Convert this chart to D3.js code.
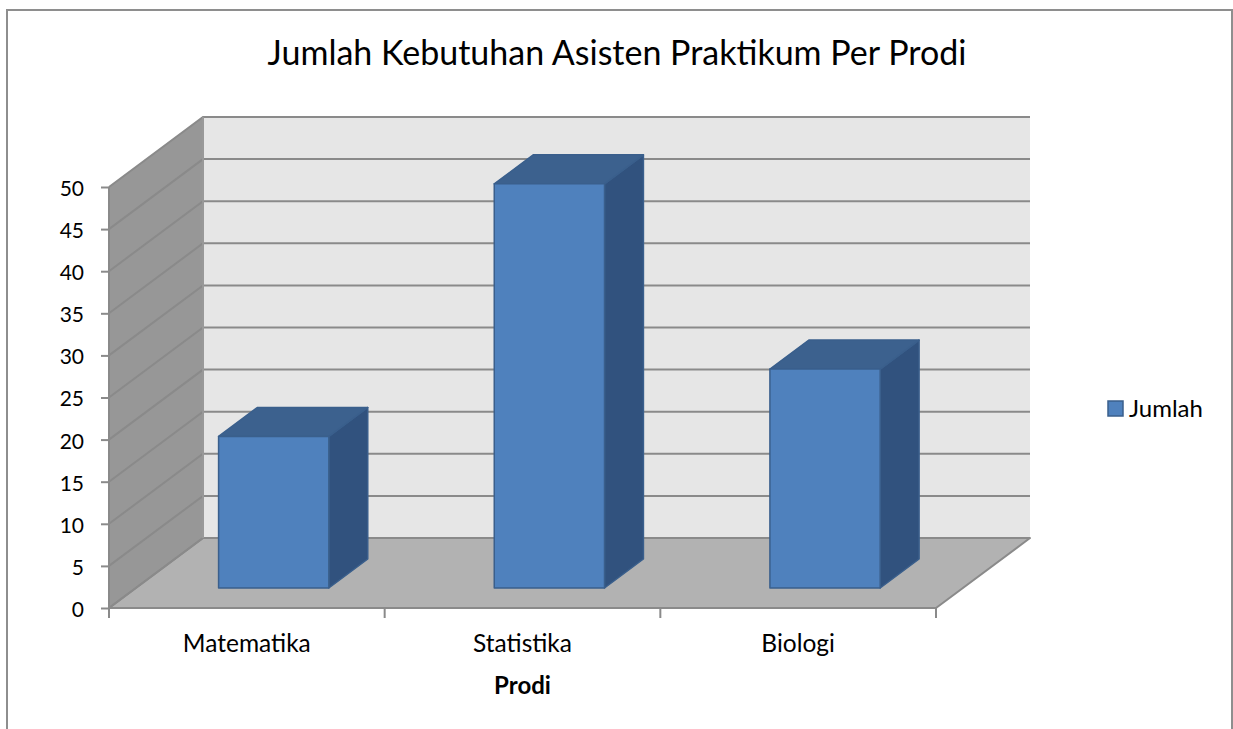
<!DOCTYPE html>
<html>
<head>
<meta charset="utf-8">
<script src="https://cdn.jsdelivr.net/npm/d3@7"></script>
<style>
  body { margin: 0; background: #fff; }
  svg { display: block; font-family: Lato, "Open Sans", sans-serif; }
</style>
</head>
<body>
<div id="chart"></div>
<script>
const title = "Jumlah Kebutuhan Asisten Praktikum Per Prodi"
const categories = ["Matematika", "Statistika", "Biologi"]
const values = [18, 48, 26]
const yTicks = [0, 5, 10, 15, 20, 25, 30, 35, 40, 45, 50]
const seriesName = "Jumlah"
const xTitle = "Prodi"

const width = 1233
const height = 729

// front plane and depth offset of the 3D box
const plotLeft = 109, plotRight = 936, plotBottom = 608, plotTop = 187
const depth = {dx: 94, dy: -70}
const barDepth = [0.286, 0.7]

const svg = d3.select("#chart").append("svg")
    .attr("width", width)
    .attr("height", height)

// outer chart border
svg.append("rect")
    .attr("x", 7).attr("y", 10)
    .attr("width", 1225).attr("height", 740)
    .attr("fill", "#fff")
    .attr("stroke", "#8e8e8e")
    .attr("stroke-width", 2)

const x = d3.scaleBand()
    .domain(categories)
    .range([plotLeft, plotRight])
    .paddingInner(0.6)
    .paddingOuter(0.3)

const y = d3.scaleLinear()
    .domain([0, 50])
    .range([plotBottom, plotTop])

const pt = (px, py, t) => [px + depth.dx * t, py + depth.dy * t]
const poly = pts => pts.map(p => p.join(",")).join(" ")

const grid = "#8a8a8a"

// back wall
svg.append("polygon")
    .attr("points", poly([pt(plotLeft, y(0), 1), pt(plotRight, y(0), 1), pt(plotRight, y(50), 1), pt(plotLeft, y(50), 1)]))
    .attr("fill", "#e6e6e6")

// side wall
svg.append("polygon")
    .attr("points", poly([[plotLeft, y(0)], pt(plotLeft, y(0), 1), pt(plotLeft, y(50), 1), [plotLeft, y(50)]]))
    .attr("fill", "#979797")

// floor
svg.append("polygon")
    .attr("points", poly([[plotLeft, y(0)], [plotRight, y(0)], pt(plotRight, y(0), 1), pt(plotLeft, y(0), 1)]))
    .attr("fill", "#b2b2b2")
    .attr("stroke", grid)
    .attr("stroke-width", 2)
    .attr("stroke-linejoin", "round")

// gridlines on back wall and side wall
const gl = svg.append("g")
    .attr("stroke", grid)
    .attr("stroke-width", 2)
    .attr("fill", "none")

gl.selectAll("polyline")
  .data(yTicks)
  .join("polyline")
    .attr("points", d => poly([[plotLeft, y(d)], pt(plotLeft, y(d), 1), pt(plotRight, y(d), 1)]))

gl.append("line")
    .attr("x1", pt(plotLeft, 0, 1)[0]).attr("x2", pt(plotLeft, 0, 1)[0])
    .attr("y1", pt(0, y(0), 1)[1]).attr("y2", pt(0, y(50), 1)[1])
    .attr("stroke", "#999")

gl.append("line")
    .attr("x1", plotLeft).attr("x2", plotLeft)
    .attr("y1", y(0)).attr("y2", y(50))

// y axis
const yAxis = svg.append("g")
    .attr("transform", `translate(${plotLeft},0)`)
    .call(d3.axisLeft(y).tickValues(yTicks).tickSize(8).tickPadding(17))
yAxis.select(".domain").remove()
yAxis.selectAll(".tick line").attr("stroke", grid).attr("stroke-width", 2)
yAxis.selectAll(".tick text")
    .attr("font-size", 21)
    .attr("fill", "#000")
    .attr("font-family", "Lato, 'Open Sans', sans-serif")
    .attr("dy", "0.4em")

// x axis ticks
svg.append("g")
    .attr("stroke", grid)
    .attr("stroke-width", 2)
  .selectAll("line")
  .data(d3.range(categories.length + 1))
  .join("line")
    .attr("x1", i => plotLeft + i * x.step())
    .attr("x2", i => plotLeft + i * x.step())
    .attr("y1", y(0))
    .attr("y2", y(0) + 10)

// category labels
svg.append("g")
  .selectAll("text")
  .data(categories)
  .join("text")
    .attr("x", d => x(d) + x.bandwidth() / 2)
    .attr("y", 652)
    .attr("text-anchor", "middle")
    .attr("font-size", 24.5)
    .text(d => d)

svg.append("text")
    .attr("x", plotLeft + (plotRight - plotLeft) / 2)
    .attr("y", 694)
    .attr("text-anchor", "middle")
    .attr("font-size", 24)
    .attr("font-weight", "bold")
    .text(xTitle)

// bars
const bars = svg.append("g")
    .attr("stroke", "#3a5f8c")
    .attr("stroke-width", 1.5)
    .attr("stroke-linejoin", "round")
  .selectAll("g")
  .data(categories.map((c, i) => ({c, v: values[i]})))
  .join("g")

bars.append("polygon")
    .attr("fill", "#31527e")
    .attr("points", d => {
      const x1 = x(d.c) + x.bandwidth()
      return poly([pt(x1, y(0), barDepth[0]), pt(x1, y(0), barDepth[1]), pt(x1, y(d.v), barDepth[1]), pt(x1, y(d.v), barDepth[0])])
    })

bars.append("polygon")
    .attr("fill", "#3c618e")
    .attr("points", d => {
      const x0 = x(d.c), x1 = x(d.c) + x.bandwidth()
      return poly([pt(x0, y(d.v), barDepth[0]), pt(x1, y(d.v), barDepth[0]), pt(x1, y(d.v), barDepth[1]), pt(x0, y(d.v), barDepth[1])])
    })

bars.append("polygon")
    .attr("fill", "#4f81bd")
    .attr("points", d => {
      const x0 = x(d.c), x1 = x(d.c) + x.bandwidth()
      return poly([pt(x0, y(0), barDepth[0]), pt(x1, y(0), barDepth[0]), pt(x1, y(d.v), barDepth[0]), pt(x0, y(d.v), barDepth[0])])
    })

// title
svg.append("text")
    .attr("x", 617)
    .attr("y", 65)
    .attr("text-anchor", "middle")
    .attr("font-size", 34)
    .attr("fill", "#000")
    .text(title)

// legend
const legend = svg.append("g")
    .attr("transform", "translate(1108,401)")
legend.append("rect")
    .attr("width", 15).attr("height", 15)
    .attr("fill", "#4f81bd")
    .attr("stroke", "#3a5f8c")
    .attr("stroke-width", 1.5)
legend.append("text")
    .attr("x", 21).attr("y", 16)
    .attr("font-size", 24)
    .text(seriesName)
</script>
</body>
</html>
